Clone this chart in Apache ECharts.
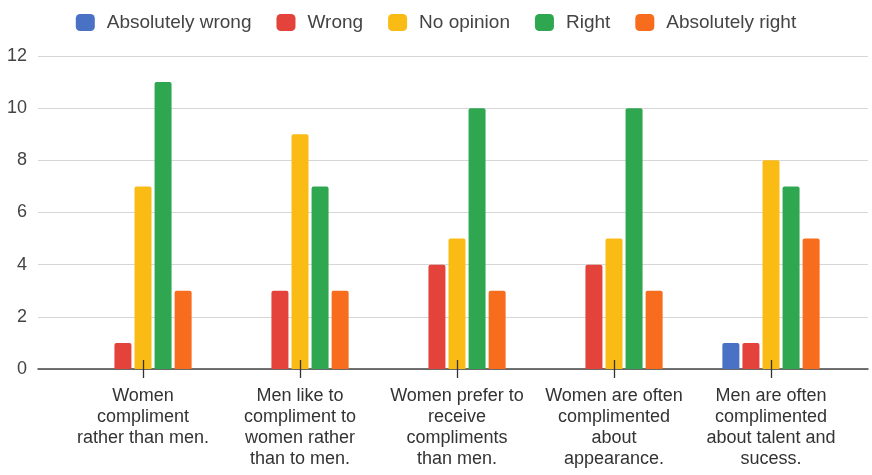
<!DOCTYPE html>
<html>
<head>
<meta charset="utf-8">
<script src="https://cdn.jsdelivr.net/npm/echarts@6/dist/echarts.min.js"></script>
<style>
  html, body { margin: 0; padding: 0; background: #fff; }
  #chart { width: 872px; height: 475px; }
</style>
</head>
<body>
<div id="chart"></div>
<script>
// Survey answers per statement
const categories = [
  'Women\ncompliment\nrather than men.',
  'Men like to\ncompliment to\nwomen rather\nthan to men.',
  'Women prefer to\nreceive\ncompliments\nthan men.',
  'Women are often\ncomplimented\nabout\nappearance.',
  'Men are often\ncomplimented\nabout talent and\nsucess.'
];
const absolutelyWrong = [0, 0, 0, 0, 1];
const wrong           = [1, 3, 4, 4, 1];
const noOpinion       = [7, 9, 5, 5, 8];
const right           = [11, 7, 10, 10, 7];
const absolutelyRight = [3, 3, 3, 3, 5];
const yTicks = [0, 2, 4, 6, 8, 10, 12];

const seriesDefs = [
  { name: 'Absolutely wrong', data: absolutelyWrong, color: '#4a72c4' },
  { name: 'Wrong',            data: wrong,           color: '#e3433a' },
  { name: 'No opinion',       data: noOpinion,       color: '#f9bb14' },
  { name: 'Right',            data: right,           color: '#2fa751' },
  { name: 'Absolutely right', data: absolutelyRight, color: '#f86c1d' }
];

const chart = echarts.init(document.getElementById('chart'), null, { renderer: 'canvas' });
const font = 'Liberation Sans, Arial, sans-serif';

const yMin = yTicks[0], yMax = yTicks[yTicks.length - 1], yStep = yTicks[1] - yTicks[0];
const tickStyle = { color: '#333', width: 1.3 };

chart.setOption({
  animation: false,
  textStyle: { fontFamily: font },
  legend: {
    top: 8,
    left: 'center',
    itemWidth: 19,
    itemHeight: 17,
    itemGap: 25,
    icon: 'roundRect',
    textStyle: { fontSize: 19, color: '#444', padding: [0, 0, 0, 7] },
    data: seriesDefs.map(s => s.name)
  },
  grid: [
    // full-width frame: gridlines and baseline
    { left: 38, right: 4, top: 56, bottom: 106 },
    // bar area
    { left: 64.5, right: 22.5, top: 56, bottom: 106 }
  ],
  xAxis: [
    {
      gridIndex: 0, type: 'category', data: [''],
      axisLine: { show: true, lineStyle: { color: '#444', width: 1.5 } },
      axisTick: { show: false }, axisLabel: { show: false }
    },
    {
      gridIndex: 1, type: 'category', data: categories, position: 'bottom', z: 10,
      axisLine: { show: false },
      axisTick: { show: true, alignWithLabel: true, length: 9, lineStyle: tickStyle },
      axisLabel: { interval: 0, fontSize: 18, color: '#333', lineHeight: 21, margin: 17, fontFamily: font }
    },
    {
      gridIndex: 1, type: 'category', data: categories, position: 'bottom', z: 10,
      axisLine: { show: false },
      axisTick: { show: true, inside: true, alignWithLabel: true, length: 9, lineStyle: tickStyle },
      axisLabel: { show: false }
    }
  ],
  yAxis: [
    {
      gridIndex: 0, type: 'value', min: yMin, max: yMax, interval: yStep,
      axisLine: { show: false }, axisTick: { show: false },
      axisLabel: { fontSize: 18, color: '#444', margin: 11, fontFamily: font },
      splitLine: { lineStyle: { color: '#d6d6d6', width: 1 } }
    },
    {
      gridIndex: 1, type: 'value', min: yMin, max: yMax, interval: yStep,
      axisLine: { show: false }, axisTick: { show: false },
      axisLabel: { show: false }, splitLine: { show: false }
    }
  ],
  series: seriesDefs.map(s => ({
    name: s.name,
    type: 'bar',
    xAxisIndex: 1,
    yAxisIndex: 1,
    data: s.data,
    barWidth: 17,
    barGap: '18%',
    itemStyle: { color: s.color, borderRadius: [2, 2, 0, 0] },
    z: 2
  }))
});
</script>
</body>
</html>
